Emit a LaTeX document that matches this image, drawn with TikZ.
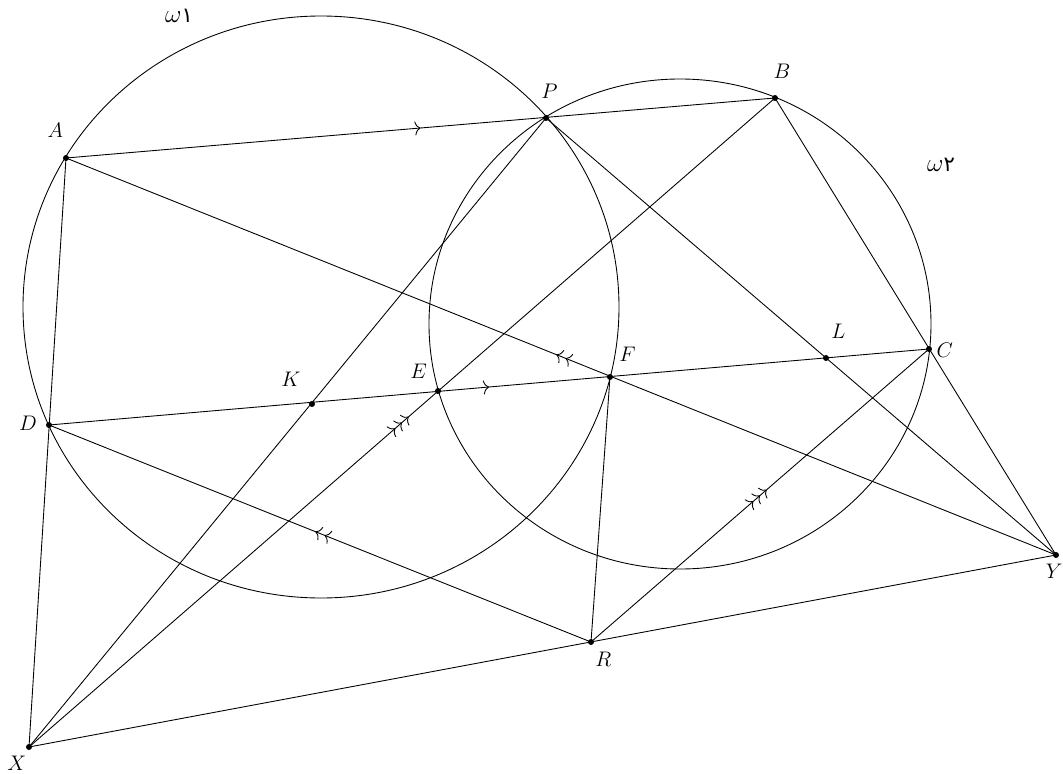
\documentclass[tikz,border=0pt]{standalone}
\usepackage{fontspec}
\newfontfamily\arabicfont[Script=Arabic]{DejaVu Sans}
\usepackage{tikz}
\usetikzlibrary{arrows.meta,decorations.markings}

\begin{document}
\begin{tikzpicture}[x=0.02cm, y=-0.02cm, line width=0.5pt,
  >={To[length=3.2pt,width=8pt]},
  every node/.style={font=\fontsize{11.5}{13}\selectfont},
  mk1/.style={postaction={decorate,decoration={markings,
    mark=at position .5 with {\arrow{>}}}}},
  mk2/.style={postaction={decorate,decoration={markings,
    mark=at position .5 with {\arrow[xshift=-2.8pt]{>}\arrow[xshift=2.8pt]{>}}}}},
  mk3/.style={postaction={decorate,decoration={markings,
    mark=at position .5 with {\arrow[xshift=-5pt]{>}\arrow{>}\arrow[xshift=5pt]{>}}}}}]
\useasboundingbox (0,0) rectangle (1063,774);
\coordinate (A) at (66,158);  \coordinate (P) at (546,118);
\coordinate (B) at (775,98);  \coordinate (D) at (49,425);
\coordinate (K) at (312,404); \coordinate (E) at (438,391);
\coordinate (F) at (610,377); \coordinate (L) at (826,358);
\coordinate (C) at (929,349); \coordinate (R) at (591,642);
\coordinate (X) at (29,747);  \coordinate (Y) at (1056,555);
\coordinate (O1) at (321,307); \coordinate (O2) at (680,324);
% the two circles
\draw (O1) ellipse (298 and 291);
\draw (O2) ellipse (251 and 245);
\node (w1) [font=\fontsize{15}{17}\selectfont] at (179,16)
  {$\omega${\arabicfont\fontsize{12}{14}\selectfont ۱}};
\node (w2) [font=\fontsize{15}{17}\selectfont] at (941,165)
  {$\omega${\arabicfont\fontsize{12}{14}\selectfont ۲}};
% parallel pairs
\draw[mk1] (A) -- (B);
\draw[mk1] (D) -- (C);
\draw[mk2] (Y) -- (A);
\draw[mk2] (R) -- (D);
\draw[mk3] (X) -- (B);
\draw[mk3] (R) -- (C);
% other lines
\draw (X) -- (A);
\draw (X) -- (P);
\draw (P) -- (Y);
\draw (B) -- (Y);
\draw (X) -- (Y);
\draw (F) -- (R);
\foreach \p/\dx/\dy in {A/-6/16,P/2/15,B/4/15,C/9/-1,L/7/15,F/10/13,
  E/-11/11,K/-12/14,D/-12/1,R/7/-10,X/-7/-9,Y/-1/-9}
  {\fill (\p) circle (1.7pt);
   \node (lab\p) [xshift=\dx pt, yshift=\dy pt] at (\p) {$\p$};}
\end{tikzpicture}
\end{document}
